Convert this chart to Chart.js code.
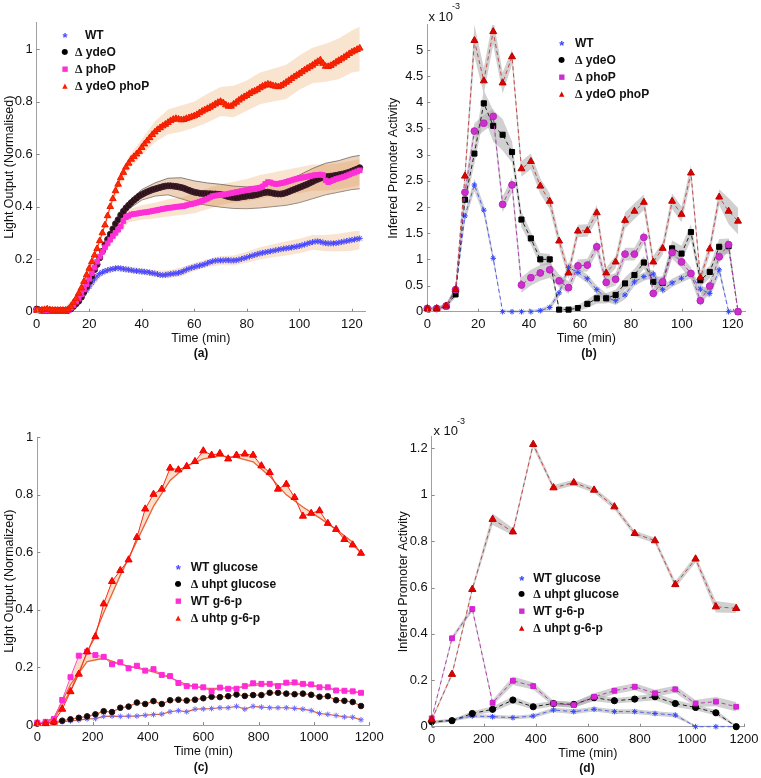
<!DOCTYPE html>
<html><head><meta charset="utf-8">
<script src="https://cdn.jsdelivr.net/npm/chart.js@4.4.1/dist/chart.umd.min.js"></script>
<style>
body{margin:0;background:#fff;width:761px;height:778px;overflow:hidden;position:relative;font-family:"Liberation Sans",Arial,sans-serif;color:#111}
canvas{position:absolute}
.t{position:absolute;white-space:nowrap;line-height:16px;transform:translateY(-50%)}
.leg{font-weight:bold;font-size:12px}
.sym{position:absolute;transform:translate(-50%,-50%);line-height:10px;font-family:"DejaVu Sans",sans-serif}
.d{font-family:"Liberation Serif",serif;font-weight:bold}
.cap{position:absolute;font-weight:bold;font-size:12px;transform:translate(-50%,-50%)}
</style></head><body>
<canvas id="cc" width="400" height="398" style="left:0;top:380px"></canvas>
<canvas id="ca" width="380" height="360" style="left:0;top:0"></canvas>
<canvas id="cb" width="381" height="360" style="left:380px;top:0"></canvas>
<canvas id="cd" width="381" height="398" style="left:380px;top:380px"></canvas>
<div id="txt"></div>
<script>
// ---------------- data ----------------
// Panel (a): light output, sampled every minute 0..123
const wtA = [0.008,0.005,0.005,0.005,0.005,0.005,0.005,0.005,0.005,0.005,0.005,0.005,0.006,0.012,0.02,0.03,0.042,0.055,0.068,0.082,0.095,0.11,0.124,0.136,0.145,0.15,0.155,0.158,0.161,0.163,0.165,0.166,0.165,0.163,0.161,0.16,0.158,0.156,0.155,0.154,0.153,0.152,0.151,0.149,0.147,0.145,0.143,0.14,0.139,0.14,0.142,0.144,0.145,0.146,0.148,0.151,0.155,0.16,0.164,0.167,0.17,0.173,0.175,0.178,0.181,0.185,0.189,0.192,0.194,0.195,0.195,0.195,0.196,0.196,0.195,0.195,0.196,0.198,0.201,0.204,0.207,0.21,0.213,0.216,0.219,0.222,0.224,0.226,0.228,0.23,0.232,0.234,0.236,0.238,0.24,0.241,0.243,0.244,0.246,0.248,0.25,0.253,0.256,0.259,0.262,0.265,0.267,0.268,0.266,0.263,0.261,0.26,0.26,0.26,0.261,0.263,0.265,0.267,0.269,0.271,0.273,0.275,0.277,0.279];
const ydeoA = [0.01,0.006,0.005,0.005,0.005,0.005,0.005,0.005,0.005,0.005,0.005,0.005,0.005,0.01,0.02,0.03,0.04,0.055,0.075,0.095,0.115,0.135,0.16,0.18,0.205,0.23,0.255,0.275,0.295,0.315,0.335,0.35,0.368,0.382,0.395,0.405,0.415,0.424,0.432,0.44,0.446,0.451,0.456,0.46,0.464,0.467,0.47,0.473,0.476,0.478,0.479,0.479,0.478,0.477,0.475,0.473,0.47,0.466,0.462,0.458,0.455,0.453,0.451,0.45,0.45,0.449,0.449,0.448,0.448,0.447,0.446,0.444,0.441,0.438,0.436,0.435,0.434,0.435,0.437,0.438,0.44,0.441,0.442,0.444,0.446,0.449,0.452,0.454,0.455,0.453,0.451,0.449,0.448,0.448,0.45,0.453,0.457,0.461,0.465,0.469,0.473,0.477,0.481,0.485,0.49,0.495,0.5,0.504,0.508,0.511,0.513,0.515,0.516,0.517,0.519,0.521,0.523,0.525,0.528,0.531,0.535,0.539,0.543,0.548];
const phopA = [0.006,0.005,0.005,0.005,0.005,0.005,0.005,0.005,0.005,0.005,0.005,0.005,0.006,0.015,0.025,0.038,0.05,0.066,0.085,0.105,0.125,0.147,0.168,0.19,0.21,0.228,0.245,0.26,0.274,0.288,0.3,0.312,0.325,0.345,0.36,0.365,0.37,0.372,0.373,0.375,0.377,0.378,0.379,0.381,0.383,0.385,0.387,0.389,0.391,0.393,0.395,0.396,0.397,0.399,0.4,0.401,0.402,0.405,0.408,0.41,0.412,0.415,0.418,0.422,0.426,0.43,0.435,0.44,0.442,0.443,0.444,0.445,0.447,0.449,0.451,0.453,0.455,0.457,0.459,0.461,0.463,0.465,0.466,0.467,0.469,0.472,0.477,0.486,0.493,0.492,0.488,0.486,0.487,0.489,0.491,0.494,0.497,0.5,0.503,0.506,0.508,0.51,0.512,0.514,0.516,0.518,0.52,0.521,0.522,0.52,0.5,0.493,0.497,0.501,0.505,0.508,0.511,0.514,0.518,0.522,0.526,0.53,0.534,0.538];
const bothA = [0.005,0.005,0.006,0.008,0.01,0.007,0.005,0.005,0.005,0.005,0.005,0.005,0.008,0.02,0.035,0.05,0.07,0.09,0.115,0.14,0.165,0.19,0.215,0.24,0.27,0.3,0.33,0.365,0.4,0.43,0.46,0.485,0.51,0.53,0.55,0.565,0.58,0.59,0.6,0.61,0.625,0.638,0.65,0.662,0.674,0.684,0.693,0.7,0.707,0.713,0.72,0.727,0.732,0.735,0.733,0.73,0.731,0.735,0.738,0.742,0.745,0.75,0.757,0.763,0.768,0.773,0.778,0.784,0.79,0.796,0.8,0.795,0.787,0.782,0.782,0.79,0.797,0.805,0.812,0.818,0.823,0.83,0.836,0.84,0.845,0.852,0.858,0.862,0.866,0.864,0.86,0.858,0.856,0.86,0.866,0.873,0.88,0.887,0.894,0.9,0.906,0.913,0.92,0.926,0.932,0.938,0.945,0.952,0.958,0.945,0.934,0.933,0.937,0.943,0.95,0.956,0.962,0.968,0.975,0.982,0.988,0.993,0.998,1.003];
// Panel (a) confidence bands, every 5 minutes
const bandTA = [0,5,10,15,20,25,30,35,40,45,50,55,60,65,70,75,80,85,90,95,100,105,110,115,120,123];
const wtHiA = [0.01,0.01,0.01,0.04,0.11,0.162,0.177,0.172,0.165,0.158,0.157,0.168,0.185,0.2,0.212,0.214,0.228,0.245,0.257,0.268,0.278,0.292,0.292,0.297,0.305,0.308];
const wtLoA = [0,0,0,0.02,0.08,0.138,0.153,0.148,0.141,0.132,0.127,0.134,0.155,0.17,0.178,0.176,0.186,0.199,0.207,0.214,0.222,0.236,0.23,0.229,0.232,0.238];
const ydeoHiA = [0.01,0.01,0.01,0.035,0.125,0.24,0.345,0.42,0.465,0.49,0.508,0.51,0.498,0.49,0.485,0.478,0.475,0.48,0.49,0.5,0.52,0.545,0.565,0.575,0.59,0.595];
const ydeoLoA = [0,0,0,0.025,0.105,0.22,0.325,0.39,0.425,0.44,0.445,0.43,0.415,0.405,0.398,0.393,0.392,0.395,0.4,0.405,0.415,0.43,0.445,0.455,0.465,0.468];
const phopHiA = [0.01,0.01,0.01,0.05,0.14,0.245,0.32,0.39,0.405,0.415,0.428,0.435,0.45,0.47,0.485,0.495,0.505,0.52,0.53,0.54,0.55,0.56,0.56,0.565,0.575,0.58];
const phopLoA = [0,0,0,0.025,0.11,0.21,0.28,0.34,0.35,0.355,0.362,0.368,0.375,0.39,0.405,0.415,0.42,0.43,0.44,0.445,0.45,0.46,0.46,0.465,0.475,0.48];
const bothHiA = [0.01,0.01,0.01,0.06,0.18,0.315,0.48,0.59,0.655,0.725,0.77,0.785,0.8,0.83,0.855,0.86,0.88,0.91,0.925,0.94,0.975,1.005,1.02,1.04,1.07,1.085];
const bothLoA = [0,0,0,0.04,0.15,0.285,0.44,0.54,0.595,0.645,0.675,0.685,0.7,0.72,0.745,0.74,0.765,0.79,0.8,0.81,0.845,0.87,0.875,0.885,0.91,0.915];

// Panel (b): inferred promoter activity (x1e-3), 34 samples, 3.7 min apart
const stepB = 3.7;
const wtB   = [0.06,0.06,0.1,0.4,1.83,2.42,1.94,1.02,0,0,0,0,0.02,0.08,0.36,0.845,0.75,0.63,0.42,0.27,0.21,0.32,0.57,0.67,0.72,0.42,0.55,0.64,0.72,0.43,0.35,0.8,0,0];
const ydeoB = [0.06,0.06,0.1,0.33,2.14,3.02,3.98,3.55,3.38,3.05,1.76,1.4,1.0,1.0,0.04,0.04,0.07,0.15,0.255,0.255,0.32,0.54,0.7,0.94,0.57,0.55,1.21,1.11,1.52,0.6,0.76,1.24,1.25,0];
const phopB = [0.06,0.06,0.11,0.42,2.28,3.45,3.6,3.73,2.05,2.42,0.51,0.65,0.74,0.8,0.59,0.46,0.875,0.89,1.24,0.56,0.62,1.1,1.1,1.42,0.35,0.57,1.13,0.95,0.73,0.21,0.49,1.05,1.28,0];
const bothB = [0.06,0.06,0.11,0.42,2.59,5.18,4.41,5.35,4.37,4.87,2.73,2.87,2.4,2.11,1.35,0.74,1.54,1.55,1.89,0.74,0.95,1.745,1.92,2.09,0.95,1.21,2.11,1.86,2.65,0.65,1.2,2.19,1.92,1.73];
const wtErrB   = [0.03,0.03,0.04,0.06,0.1,0.12,0.1,0.08,0.03,0.03,0.03,0.03,0.04,0.05,0.08,0.1,0.08,0.08,0.08,0.08,0.08,0.08,0.08,0.08,0.08,0.08,0.08,0.08,0.08,0.08,0.08,0.1,0.04,0.04];
const ydeoErrB = [0.03,0.03,0.04,0.06,0.15,0.2,0.25,0.3,0.3,0.2,0.15,0.12,0.12,0.1,0.05,0.05,0.06,0.08,0.1,0.1,0.1,0.12,0.12,0.12,0.1,0.12,0.15,0.15,0.15,0.12,0.12,0.15,0.15,0.05];
const phopErrB = [0.03,0.03,0.04,0.06,0.15,0.15,0.15,0.15,0.15,0.15,0.15,0.15,0.15,0.15,0.12,0.12,0.12,0.12,0.12,0.12,0.12,0.12,0.12,0.12,0.1,0.12,0.12,0.12,0.12,0.1,0.12,0.12,0.12,0.05];
const bothErrB = [0.03,0.03,0.04,0.06,0.15,0.3,0.25,0.25,0.2,0.15,0.15,0.15,0.15,0.15,0.12,0.12,0.12,0.12,0.15,0.1,0.12,0.15,0.15,0.15,0.12,0.12,0.15,0.15,0.15,0.1,0.12,0.15,0.25,0.25];

// Panel (c): light output, sampled every 30 min
const timeC = [0,30,60,90,120,150,180,210,240,270,300,330,360,390,420,450,480,510,540,570,600,630,660,690,720,750,780,810,840,870,900,930,960,990,1020,1050,1080,1110,1140,1170];
const wtGluC  = [0.005,0.006,0.008,0.011,0.014,0.017,0.021,0.022,0.03,0.031,0.03,0.031,0.031,0.034,0.036,0.038,0.046,0.05,0.046,0.055,0.056,0.057,0.06,0.06,0.065,0.055,0.065,0.062,0.06,0.06,0.06,0.058,0.055,0.05,0.04,0.037,0.033,0.028,0.027,0.018];
const uhpGluC = [0.005,0.008,0.011,0.015,0.02,0.025,0.03,0.037,0.048,0.045,0.06,0.064,0.078,0.073,0.083,0.073,0.086,0.088,0.085,0.088,0.093,0.098,0.097,0.1,0.106,0.101,0.104,0.104,0.112,0.112,0.109,0.107,0.109,0.105,0.098,0.1,0.086,0.084,0.08,0.066];
const wtG6pC  = [0.008,0.011,0.021,0.087,0.166,0.241,0.255,0.243,0.237,0.211,0.218,0.197,0.206,0.189,0.194,0.174,0.17,0.146,0.135,0.134,0.131,0.117,0.13,0.126,0.126,0.135,0.145,0.143,0.143,0.135,0.147,0.148,0.143,0.141,0.131,0.131,0.12,0.119,0.117,0.112];
const uhpG6pC = [0.005,0.005,0.01,0.055,0.116,0.177,0.255,0.307,0.421,0.499,0.537,0.574,0.652,0.751,0.802,0.82,0.893,0.887,0.899,0.916,0.953,0.938,0.944,0.925,0.938,0.942,0.938,0.901,0.878,0.82,0.837,0.791,0.726,0.736,0.745,0.701,0.68,0.645,0.626,0.597];
// smoothed fits in (c)
const timeFitC = [0,60,120,180,240,300,360,420,480,540,600,660,720,780,840,900,960,1020,1080,1140,1170];
const wtG6pFitC  = [0,0.025,0.14,0.22,0.232,0.212,0.198,0.185,0.165,0.14,0.128,0.127,0.13,0.138,0.142,0.143,0.14,0.133,0.122,0.116,0.112];
const uhpG6pFitC = [0,0.02,0.12,0.25,0.39,0.52,0.64,0.76,0.85,0.9,0.925,0.935,0.93,0.915,0.865,0.8,0.758,0.72,0.68,0.635,0.597];

// Panel (d): inferred promoter activity (x1e-3), every 78 min
const timeD = [0,78,156,234,312,390,468,546,624,702,780,858,936,1014,1092,1170];
const wtGluD  = [0.017,0.029,0.046,0.043,0.039,0.046,0.072,0.065,0.075,0.065,0.065,0.057,0.05,0,0,0];
const uhpGluD = [0.022,0.026,0.057,0.075,0.115,0.086,0.1,0.096,0.125,0.112,0.119,0.129,0.1,0.083,0.06,0];
const wtG6pD  = [0.036,0.381,0.507,0.103,0.198,0.175,0.1,0.093,0.129,0.155,0.172,0.144,0.161,0.1,0.108,0.086];
const uhpG6pD = [0.03,0.226,0.592,0.894,0.84,1.217,1.03,1.052,1.02,0.948,0.833,0.802,0.613,0.723,0.517,0.51];
const wtGluErrD  = [0.006,0.006,0.008,0.008,0.008,0.008,0.01,0.01,0.01,0.01,0.01,0.01,0.01,0.004,0.004,0.004];
const uhpGluErrD = [0.006,0.006,0.01,0.012,0.015,0.012,0.012,0.012,0.015,0.012,0.012,0.015,0.015,0.012,0.012,0.006];
const wtG6pErrD  = [0.006,0.01,0.012,0.012,0.018,0.015,0.012,0.012,0.015,0.015,0.015,0.015,0.015,0.015,0.02,0.02];
const uhpG6pErrD = [0.006,0.01,0.012,0.025,0.015,0.015,0.012,0.012,0.012,0.012,0.012,0.012,0.015,0.015,0.025,0.02];

// labels
const legendAB = ['WT','Δ ydeO','Δ phoP','Δ ydeO phoP'];
const legendCD = ['WT glucose','Δ uhpt glucose','WT g-6-p','Δ uhtp g-6-p'];
const legendD  = ['WT glucose','Δ uhpt glucose','WT g-6-p','Δ uhpt g-6-p'];

// ---------------- helpers ----------------
const FF = '"Liberation Sans", Arial, sans-serif';
const pts = (xs, ys) => xs.map((x, i) => ({x, y: ys[i]}));
const fmt = v => String(+Number(v).toFixed(3));

// small inward tick marks (Matlab style), placed by the scales themselves
const inwardTicks = {
  id: 'inwardTicks',
  afterDraw(chart) {
    const {ctx, chartArea: a} = chart;
    ctx.save();
    ctx.strokeStyle = '#8a8a8a'; ctx.lineWidth = 1;
    const sx = chart.scales.x, sy = chart.scales.y;
    ctx.beginPath();
    sx.ticks.forEach(t => { const p = Math.round(sx.getPixelForValue(t.value)) + 0.5; ctx.moveTo(p, a.bottom); ctx.lineTo(p, a.bottom - 3); });
    sy.ticks.forEach(t => { const p = Math.round(sy.getPixelForValue(t.value)) + 0.5; ctx.moveTo(a.left, p); ctx.lineTo(a.left + 3, p); });
    ctx.stroke();
    ctx.restore();
  }
};

function axis(min, max, step, title, titlePad, fitSize, isX) {
  return {
    type: 'linear', min, max,
    border: {display: true, color: '#a0a0a0', width: 1},
    grid: {display: false, drawOnChartArea: false, drawTicks: false},
    ticks: {stepSize: step, includeBounds: false, autoSkip: false, maxRotation: 0, padding: isX ? 5 : 4,
            color: '#111', font: {family: FF, size: 13}, callback: fmt},
    title: {display: true, text: title, color: '#111', font: {family: FF, size: 12.5},
            padding: isX ? {top: 0, bottom: titlePad} : {top: titlePad, bottom: 0}},
    afterFit: s => {
      if (isX) { s.height = fitSize; s.paddingLeft = 0; s.paddingRight = 0; }
      else { s.width = fitSize; s.paddingTop = 0; s.paddingBottom = 0; }
    }
  };
}
function chart(id, datasets, xs, ys, pad) {
  return new Chart(document.getElementById(id), {
    type: 'line',
    data: {datasets},
    plugins: [inwardTicks],
    options: {
      responsive: false, animation: false, devicePixelRatio: 1,
      layout: {padding: pad},
      plugins: {legend: {display: false}, tooltip: {enabled: false}},
      elements: {line: {tension: 0}},
      scales: {x: xs, y: ys}
    }
  });
}
function marker(xs, ys, style, r, bg, bd, line, lw, order, dash) {
  return {data: pts(xs, ys), pointStyle: style, pointRadius: r, pointBackgroundColor: bg,
          pointBorderColor: bd, pointBorderWidth: 1, borderColor: line, borderWidth: lw,
          borderDash: dash || [], fill: false, clip: false, order, showLine: lw > 0};
}
function band(xs, hi, lo, color, order, edge) {
  return [
    {data: pts(xs, hi), pointRadius: 0, borderWidth: edge ? 0.7 : 0, borderColor: edge || 'rgba(0,0,0,0)',
     fill: '+1', backgroundColor: color, order},
    {data: pts(xs, lo), pointRadius: 0, borderWidth: edge ? 0.7 : 0, borderColor: edge || 'rgba(0,0,0,0)',
     fill: false, order}
  ];
}
const plus = (v, e) => v.map((y, i) => y + e[i]);
const minus = (v, e) => v.map((y, i) => Math.max(0, y - e[i]));

// ---------------- panel (a) ----------------
const timeA = wtA.map((_, i) => i);
const peach = 'rgba(240,190,140,0.42)';
chart('ca', [
  ...band(bandTA, bothHiA, bothLoA, peach, 20),
  ...band(bandTA, wtHiA, wtLoA, peach, 20),
  ...band(bandTA, phopHiA, phopLoA, peach, 20),
  ...band(bandTA, ydeoHiA, ydeoLoA, 'rgba(215,150,90,0.42)', 19, '#555'),
  marker(timeA, wtA, 'star', 3, '#4a4aff', '#4a4aff', '#d84a3a', 1, 4),
  marker(timeA, ydeoA, 'circle', 3, '#2a1018', '#40202c', '#d84a3a', 1, 3),
  marker(timeA, phopA, 'rect', 3.3, '#ff2fd6', '#ff2fd6', '#d84a3a', 1, 2),
  marker(timeA, bothA, 'triangle', 3.8, '#ff2a00', '#ee1a00', '#ff2a00', 1, 1)
], axis(0, 125, 20, 'Time (min)', 0, 34.5, true),
   axis(0, 1.1, 0.2, 'Light Output (Normalised)', 2, 36.7, false),
   {left: 0, top: 22.7, right: 15, bottom: 13.8});

// ---------------- panel (b) ----------------
const timeB = wtB.map((_, i) => +(i * stepB).toFixed(2));
const grey = 'rgba(170,170,170,0.55)';
chart('cb', [
  ...band(timeB, plus(bothB, bothErrB), minus(bothB, bothErrB), grey, 20),
  ...band(timeB, plus(phopB, phopErrB), minus(phopB, phopErrB), grey, 20),
  ...band(timeB, plus(ydeoB, ydeoErrB), minus(ydeoB, ydeoErrB), grey, 20),
  ...band(timeB, plus(wtB, wtErrB), minus(wtB, wtErrB), grey, 20),
  marker(timeB, wtB, 'star', 2.8, '#3344ff', '#3344ff', '#5060f0', 1, 4, [4, 3]),
  marker(timeB, ydeoB, 'rect', 3.6, '#000', '#000', '#222', 1, 3, [4, 3]),
  marker(timeB, phopB, 'circle', 3.4, '#cc30cc', '#bb22bb', '#b040b0', 1, 2, [4, 3]),
  marker(timeB, bothB, 'triangle', 4, '#dd0000', '#bb0000', '#c84848', 1, 1, [4, 3])
], axis(0, 125, 20, 'Time (min)', 0, 34.5, true),
   axis(0, 5.48, 0.5, 'Inferred Promoter Activity', 6, 47.3, false),
   {left: 0, top: 24.8, right: 15.6, bottom: 13.8});

// ---------------- panel (c) ----------------
const fitFill = 'rgba(240,185,135,0.45)';
chart('cc', [
  marker(timeC, wtGluC, 'star', 2.8, '#6b6bff', '#6b6bff', '#e0603a', 1.2, 4),
  marker(timeC, uhpGluC, 'circle', 2.8, '#0a0a0a', '#301010', '#e0603a', 1.2, 3),
  marker(timeC, wtG6pC, 'rect', 3.5, '#ff2ad8', '#ff2ad8', '#ff50c8', 1, 2),
  marker(timeC, uhpG6pC, 'triangle', 4.1, '#ff0a00', '#ee0000', '#ff2a1a', 1, 1),
  {data: pts(timeFitC, wtG6pFitC), pointRadius: 0, borderColor: '#e8643a', borderWidth: 1.3, fill: 2, backgroundColor: fitFill, order: 6},
  {data: pts(timeFitC, uhpG6pFitC), pointRadius: 0, borderColor: '#e8643a', borderWidth: 1.3, fill: 3, backgroundColor: fitFill, order: 6}
], axis(0, 1200, 200, 'Time (min)', 0, 34, true),
   axis(0, 1, 0.2, 'Light Output (Normalized)', 2, 37.3, false),
   {left: 0, top: 57.3, right: 30.7, bottom: 19});

// ---------------- panel (d) ----------------
chart('cd', [
  ...band(timeD, plus(uhpG6pD, uhpG6pErrD), minus(uhpG6pD, uhpG6pErrD), grey, 20),
  ...band(timeD, plus(wtG6pD, wtG6pErrD), minus(wtG6pD, wtG6pErrD), grey, 20),
  ...band(timeD, plus(uhpGluD, uhpGluErrD), minus(uhpGluD, uhpGluErrD), grey, 20),
  ...band(timeD, plus(wtGluD, wtGluErrD), minus(wtGluD, wtGluErrD), grey, 20),
  marker(timeD, wtGluD, 'star', 2.8, '#3344ff', '#3344ff', '#5060f0', 1, 4, [4, 3]),
  marker(timeD, uhpGluD, 'circle', 3.1, '#000', '#000', '#222', 1, 3, [4, 3]),
  marker(timeD, wtG6pD, 'rect', 3.4, '#dd22dd', '#cc22cc', '#b040b0', 1, 2, [4, 3]),
  marker(timeD, uhpG6pD, 'triangle', 4.2, '#dd0000', '#bb0000', '#c84848', 1, 1, [4, 3])
], axis(0, 1200, 200, 'Time (min)', 0, 34.4, true),
   axis(0, 1.25, 0.2, 'Inferred Promoter Activity', 16, 51.7, false),
   {left: 0, top: 56.7, right: 17, bottom: 16.9});

// ---------------- text overlays ----------------
const box = document.getElementById('txt');
function add(html, cls, x, y, style) {
  const d = document.createElement('div');
  d.className = cls; d.innerHTML = html;
  d.style.left = x + 'px'; d.style.top = y + 'px';
  if (style) d.style.cssText += style;
  box.appendChild(d);
}
const syms = [
  ['*', 'color:#4a4aff;font-size:13px;font-weight:bold;font-family:Liberation Sans;margin-top:3px'],
  ['●', 'color:#000;font-size:8px'],
  ['■', 'color:#ff2fd6;font-size:7px'],
  ['▲', 'color:#ff1a00;font-size:7px']
];
const symsBD = [
  ['*', 'color:#3344ff;font-size:13px;font-weight:bold;font-family:Liberation Sans;margin-top:3px'],
  ['●', 'color:#000;font-size:8px'],
  ['■', 'color:#cc30cc;font-size:7px'],
  ['▲', 'color:#dd0000;font-size:7px']
];
const esc = s => s.replace('Δ', '<span class="d">Δ</span>');
function legend(labels, sx, tx, ys, sy, firstShift) {
  labels.forEach((l, i) => {
    add(sy[i][0], 'sym', sx, ys[i], sy[i][1]);
    add(esc(l), 't leg', tx + (i === 0 ? firstShift : 0), ys[i]);
  });
}
legend(legendAB, 65, 75, [35, 52, 68.5, 86], syms, 10);
legend(legendAB, 561.7, 575, [42.7, 60, 76.7, 94.3], symsBD, 0);
legend(legendCD, 178.3, 190.7, [567.3, 584.3, 601, 618.3], syms, 0);
legend(legendD, 521.7, 533.3, [577.7, 594.3, 611, 628.3], symsBD, 0);

add('(a)', 'cap', 201, 353);
add('(b)', 'cap', 589, 353);
add('(c)', 'cap', 201, 767);
add('(d)', 'cap', 587, 768);
add('x 10', 't', 428.5, 17, 'font-size:13px');
add('-3', 't', 452, 6, 'font-size:9px');
add('x 10', 't', 433.5, 431, 'font-size:13px');
add('-3', 't', 457, 421, 'font-size:9px');
</script>
</body></html>
